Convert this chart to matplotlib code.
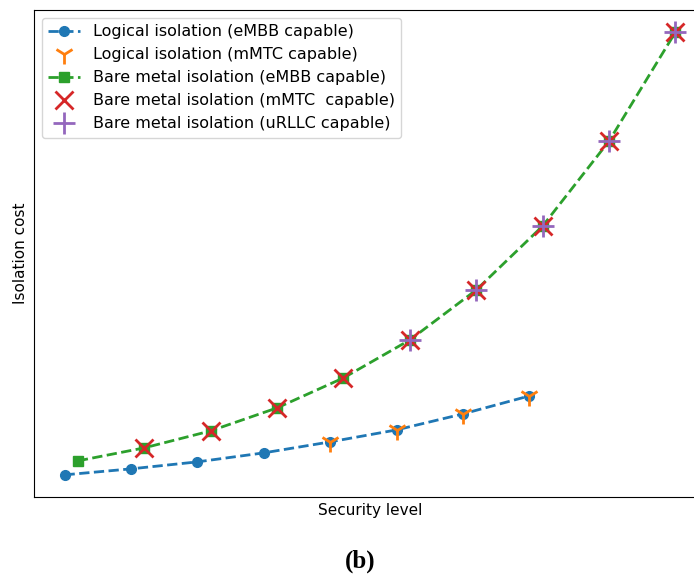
import matplotlib.pyplot as plt

# security levels and isolation cost (arbitrary units)
logical_x = [1, 2, 3, 4, 5, 6, 7, 8]
logical_embb = [0.0, 0.6, 1.3, 2.2, 3.3, 4.5, 6.1, 7.9]
logical_mmtc_x = [5, 6, 7, 8]
logical_mmtc = [3.3, 4.5, 6.1, 7.9]

bare_x = [1.2, 2.2, 3.2, 4.2, 5.2, 6.2, 7.2, 8.2, 9.2, 10.2]
bare_embb = [1.4, 2.7, 4.4, 6.7, 9.7, 13.5, 18.5, 24.9, 33.4, 44.3]
bare_mmtc_x = bare_x[1:]
bare_mmtc = bare_embb[1:]
bare_urllc_x = bare_x[5:]
bare_urllc = bare_embb[5:]

fig = plt.figure(figsize=(6.94, 5.76), dpi=100)
ax = fig.add_axes([34 / 694, 79 / 576, 672 / 694, 487 / 576])

ax.plot(logical_x, logical_embb, '--o', color='tab:blue', lw=2, ms=7,
        label='Logical isolation (eMBB capable)')
ax.plot(logical_mmtc_x, logical_mmtc, '1', color='tab:orange', ms=15, mew=2,
        label='Logical isolation (mMTC capable)')
ax.plot(bare_x, bare_embb, '--s', color='tab:green', lw=2, ms=7,
        label='Bare metal isolation (eMBB capable)')
ax.plot(bare_mmtc_x, bare_mmtc, 'x', color='tab:red', ms=13, mew=2,
        label='Bare metal isolation (mMTC  capable)')
ax.plot(bare_urllc_x, bare_urllc, '+', color='tab:purple', ms=16, mew=2,
        label='Bare metal isolation (uRLLC capable)')

ax.set_xticks([])
ax.set_yticks([])
ax.set_xlabel('Security level', fontsize=11)
ax.set_ylabel('Isolation cost', fontsize=11)
ax.legend(loc='upper left', fontsize=11.5, handlelength=2, borderaxespad=0.5)

fig.text(360 / 694, 1 - 561 / 576, '(b)', ha='center', va='center',
         fontsize=18, fontweight='bold', family='Liberation Serif')

fig.savefig('out.png', dpi=100)
